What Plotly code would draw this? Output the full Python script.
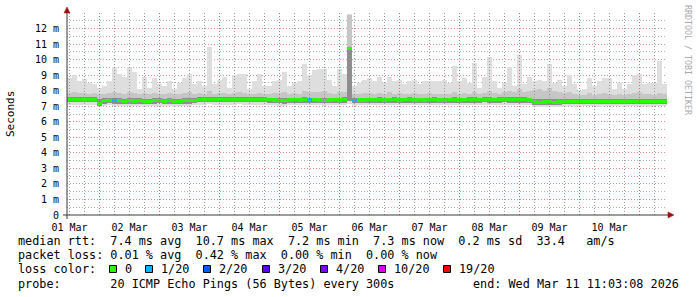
import pandas as pd
import plotly.graph_objects as go

# ---------------- data ----------------
START = "2026-03-01 11:00:00"
END = "2026-03-11 11:00:00"
STEP_HOURS = 2

rtt_max = [8.8, 9.0, 8.6, 8.75, 8.5, 8.4, 8.2, 8.3, 8.6, 9.5,
           9.1, 8.9, 9.5, 9.2, 8.1, 8.9, 8.2, 8.8, 8.4, 8.3,
           8.6, 8.1, 8.5, 8.8, 9.1, 8.4, 8.6, 8.3, 10.8, 8.4,
           8.7, 8.9, 8.2, 9.0, 9.1, 9.1, 8.1, 8.6, 9.1, 8.3,
           8.3, 8.6, 8.7, 9.2, 8.3, 8.5, 8.6, 9.7, 9.0, 9.35,
           9.4, 9.4, 8.7, 8.3, 9.4, 9.1, 12.95, 8.3, 8.5, 8.7,
           8.8, 8.6, 8.9, 8.5, 8.9, 8.6, 8.7, 8.4, 8.6, 8.7,
           8.4, 8.6, 8.6, 8.6, 8.6, 8.7, 8.5, 9.6, 8.6, 8.8,
           8.5, 9.8, 8.2, 8.9, 10.2, 8.6, 8.2, 8.5, 9.5, 8.3,
           10.3, 8.4, 8.9, 8.6, 8.7, 8.6, 9.7, 8.5, 8.7, 8.3,
           9.0, 8.4, 8.0, 8.1, 8.8, 8.3, 8.6, 8.8, 8.8, 8.1,
           8.5, 8.1, 8.4, 9.0, 9.1, 8.4, 8.5, 8.5, 9.9, 8.4]

rtt_p90 = [7.85, 7.9, 7.85, 7.85, 7.8, 7.85, 7.8, 7.8, 7.85, 7.9,
           7.85, 7.8, 7.9, 7.85, 7.8, 7.85, 7.8, 7.85, 7.8, 7.8,
           7.85, 7.8, 7.8, 7.85, 7.9, 7.8, 7.85, 7.8, 7.95, 7.8,
           7.85, 7.85, 7.8, 7.85, 7.9, 7.85, 7.8, 7.8, 7.85, 7.8,
           7.8, 7.85, 7.85, 7.9, 7.8, 7.85, 7.8, 7.95, 7.9, 7.9,
           7.9, 7.95, 7.85, 7.8, 7.9, 7.9, 12.9, 7.8, 7.8, 7.85,
           7.85, 7.8, 7.85, 7.8, 7.9, 7.8, 7.85, 7.8, 7.8, 7.85,
           7.8, 7.8, 7.85, 7.8, 7.8, 7.8, 7.8, 7.9, 7.8, 7.85,
           7.8, 7.9, 7.8, 7.85, 7.95, 7.85, 7.8, 7.9, 8.0, 7.9,
           8.1, 7.9, 8.0, 8.05, 8.1, 7.95, 8.2, 8.0, 7.9, 7.85,
           7.9, 7.8, 7.75, 7.75, 7.85, 7.75, 7.8, 7.85, 7.8, 7.75,
           7.8, 7.75, 7.8, 7.85, 7.9, 7.8, 7.8, 7.75, 7.85, 7.8]

rtt_q3 = [7.6, 7.58, 7.6, 7.6, 7.58, 7.6, 7.45,
          7.5, 7.52, 7.5, 7.5, 7.48, 7.5, 7.5, 7.5, 7.46, 7.48, 7.5, 7.52, 7.48, 7.5, 7.47, 7.48, 7.5, 7.5, 7.53,
          7.58, 7.58, 7.6, 7.57, 7.58, 7.58, 7.57, 7.58, 7.6, 7.58, 7.57, 7.58, 7.58, 7.57,
          7.56, 7.55, 7.53, 7.52, 7.55, 7.56, 7.55, 7.57, 7.55, 7.56, 7.55, 7.53, 7.55, 7.56, 7.55, 7.57,
          10.8,
          7.53, 7.55, 7.55, 7.56, 7.55, 7.57, 7.55, 7.56, 7.57, 7.55, 7.56, 7.57, 7.55, 7.56, 7.55, 7.56,
          7.57, 7.55, 7.55, 7.56, 7.57, 7.55, 7.56,
          7.57, 7.57, 7.56, 7.58, 7.57, 7.56, 7.57, 7.6, 7.6, 7.58, 7.62, 7.6, 7.56,
          7.45, 7.44, 7.46, 7.47, 7.45, 7.45, 7.47,
          7.47, 7.46, 7.47, 7.48, 7.47, 7.47, 7.46, 7.48, 7.47, 7.48, 7.47, 7.46, 7.47, 7.48, 7.47, 7.47,
          7.46, 7.48, 7.47, 7.48]

median_rtt = [7.43, 7.42, 7.43, 7.43, 7.42, 7.43, 7.15,
              7.35, 7.38, 7.35, 7.35, 7.33, 7.35, 7.34, 7.35, 7.3, 7.33, 7.35, 7.36, 7.32, 7.35, 7.31, 7.33,
              7.35, 7.35, 7.38,
              7.45, 7.45, 7.46, 7.44, 7.45, 7.45, 7.44, 7.45, 7.46, 7.45, 7.44, 7.45, 7.45, 7.44,
              7.42, 7.4, 7.38, 7.35, 7.4, 7.41, 7.4, 7.42, 7.4, 7.41, 7.4, 7.38, 7.4, 7.41, 7.4, 7.42,
              10.7,
              7.38, 7.4, 7.4, 7.41, 7.4, 7.42, 7.4, 7.41, 7.42, 7.4, 7.41, 7.42, 7.4, 7.41, 7.4, 7.41,
              7.42, 7.4, 7.4, 7.41, 7.42, 7.4, 7.41,
              7.42, 7.42, 7.41, 7.43, 7.42, 7.41, 7.42, 7.43, 7.42, 7.41, 7.42, 7.42, 7.4,
              7.27, 7.26, 7.27, 7.28, 7.26, 7.27, 7.3,
              7.32, 7.31, 7.32, 7.33, 7.32, 7.32, 7.31, 7.33, 7.32, 7.33, 7.32, 7.31, 7.32, 7.33, 7.32, 7.32,
              7.31, 7.33, 7.32, 7.33]

rtt_q1 = [7.26, 7.25, 7.26, 7.26, 7.25, 7.26, 7.02,
          7.17, 7.2, 7.17, 7.17, 7.15, 7.17, 7.16, 7.17, 7.12, 7.15, 7.17, 7.18, 7.14, 7.17, 7.13, 7.15,
          7.17, 7.17, 7.2,
          7.27, 7.27, 7.28, 7.26, 7.27, 7.27, 7.26, 7.27, 7.28, 7.27, 7.26, 7.27, 7.27, 7.26,
          7.24, 7.22, 7.2, 7.17, 7.22, 7.23, 7.22, 7.24, 7.22, 7.23, 7.22, 7.2, 7.22, 7.23, 7.22, 7.24,
          7.35,
          7.2, 7.22, 7.22, 7.23, 7.22, 7.24, 7.22, 7.23, 7.24, 7.22, 7.23, 7.24, 7.22, 7.23, 7.22, 7.23,
          7.24, 7.22, 7.22, 7.23, 7.24, 7.22, 7.23,
          7.24, 7.24, 7.23, 7.25, 7.24, 7.23, 7.24, 7.25, 7.24, 7.23, 7.24, 7.24, 7.22,
          7.1, 7.08, 7.1, 7.1, 7.08, 7.1, 7.12,
          7.15, 7.14, 7.15, 7.16, 7.15, 7.15, 7.14, 7.16, 7.15, 7.16, 7.15, 7.14, 7.15, 7.16, 7.15, 7.15,
          7.14, 7.16, 7.15, 7.16]

rtt_min = [7.1, 7.08, 7.1, 7.1, 7.08, 7.1, 6.95,
           7.02, 7.05, 7.02, 7.02, 7.0, 7.02, 7.0, 7.02, 6.98, 7.0, 7.02, 7.03, 7.0, 7.02, 6.98, 7.0,
           7.02, 7.02, 7.05,
           7.1, 7.1, 7.12, 7.08, 7.1, 7.1, 7.08, 7.1, 7.12, 7.1, 7.08, 7.1, 7.1, 7.08,
           7.08, 7.05, 7.03, 7.0, 7.05, 7.06, 7.05, 7.08, 7.05, 7.06, 7.05, 7.03, 7.05, 7.06, 7.05, 7.08,
           7.15,
           7.03, 7.05, 7.05, 7.06, 7.05, 7.08, 7.05, 7.06, 7.08, 7.05, 7.06, 7.08, 7.05, 7.06, 7.05, 7.06,
           7.08, 7.05, 7.05, 7.06, 7.08, 7.05, 7.06,
           7.08, 7.08, 7.06, 7.1, 7.08, 7.06, 7.08, 7.1, 7.08, 7.06, 7.08, 7.08, 7.05,
           6.95, 6.93, 6.95, 6.95, 6.93, 6.95, 6.97,
           7.0, 6.98, 7.0, 7.02, 7.0, 7.0, 6.98, 7.02, 7.0, 7.02, 7.0, 6.98, 7.0, 7.02, 7.0, 7.0,
           6.98, 7.02, 7.0, 7.02]

# lost pings out of 20 per step
loss = [0] * 120
for k in (9, 48, 57):
    loss[k] = 1

day_labels = ["01 Mar", "02 Mar", "03 Mar", "04 Mar", "05 Mar",
              "06 Mar", "07 Mar", "08 Mar", "09 Mar", "10 Mar"]
y_ticks = list(range(0, 13))
y_tick_text = ["0"] + [f"{v} m" for v in range(1, 13)]

loss_levels = ["0", "1/20", "2/20", "3/20", "4/20", "10/20", "19/20"]
loss_level_values = [0, 1, 2, 3, 4, 10, 19]
loss_level_colors = ["#26ff00", "#00b8ff", "#0059ff", "#5e00ff", "#7e00ff", "#dd00ff", "#ff0000"]

legend_rows = [
    "median rtt:  7.4 ms avg  10.7 ms max  7.2 ms min  7.3 ms now  0.2 ms sd  33.4   am/s",
    "packet loss: 0.01 % avg  0.42 % max  0.00 % min  0.00 % now",
    "loss color:",
    "probe:       20 ICMP Echo Pings (56 Bytes) every 300s",
]
end_text = "end: Wed Mar 11 11:03:08 2026"

# ---------------- layout geometry (pixels) ----------------
W, H = 697, 297
L, R, T, B = 67, 30, 13, 82
PW, PH = W - L - R, H - T - B
MONO = "DejaVu Sans Mono"
Y_TOP = 13


def px(x):
    return (x - L) / PW


def py(y):
    return (H - B - y) / PH


start = pd.Timestamp(START)
end = pd.Timestamp(END)
step = pd.Timedelta(hours=STEP_HOURS)
n = len(median_rtt)
times = [(start + step * (k + 0.5)).isoformat() for k in range(n)]
bar_w = step.total_seconds() * 1000
day_noons = [f"2026-03-{d:02d}T12:00:00" for d in range(1, 11)]

# columns where most pings sit far above the median are drawn dark
burst = [(q3 - md) > 1 for q3, md in zip(rtt_q3, median_rtt)]
c_outer = ["#dedede" if not b else "#5a5a5a" for b in burst]
c_mid = ["#c6c6c6" if not b else "#505050" for b in burst]
c_inner = ["#8e8e8e" if not b else "#161616" for b in burst]
color_of = dict(zip(loss_level_values, loss_level_colors))

grid_red = "#e08a8a"
grid_grey = "#b0b0b0"
vgrid_red = "#d66c6c"
vgrid_grey = "#999999"
dots = "1px,2px"

fig = go.Figure()


def band(lo, hi, colors):
    fig.add_trace(go.Bar(
        x=times, y=[h - l for l, h in zip(lo, hi)], base=lo, width=bar_w,
        marker=dict(color=colors, line=dict(width=0)),
        hoverinfo="skip", showlegend=False))


band(rtt_min, rtt_max, c_outer)
band(rtt_q1, rtt_p90, c_mid)
band(rtt_q1, rtt_q3, c_inner)

# median line coloured by loss
med_h = 0.2
fig.add_trace(go.Bar(
    x=times, y=[med_h] * n, base=[m - med_h / 2 for m in median_rtt], width=bar_w,
    marker=dict(color=[color_of[l] for l in loss], line=dict(width=0)),
    hoverinfo="skip", showlegend=False))

# vertical grid as line traces: every 6 h grey, midnight red
grid_times = [t for t in pd.date_range("2026-03-01 12:00", END, freq="6h") if start < t < end]
for want_mid, col in ((False, vgrid_grey), (True, vgrid_red)):
    gx, gy = [], []
    for t in grid_times:
        if (t.hour == 0) == want_mid:
            gx += [t.isoformat(), t.isoformat(), None]
            gy += [0, Y_TOP, None]
    fig.add_trace(go.Scatter(x=gx, y=gy, mode="lines", hoverinfo="skip", showlegend=False,
                             line=dict(color=col, width=1, dash=dots)))

fig.update_layout(
    width=W, height=H,
    margin=dict(l=L, r=R, t=T, b=B, pad=0),
    paper_bgcolor="#ffffff", plot_bgcolor="#ffffff",
    barmode="overlay", bargap=0,
    font=dict(family=MONO, size=10, color="#000000"),
    xaxis=dict(
        type="date", range=[start.isoformat(), end.isoformat()],
        tickmode="array", tickvals=day_noons, ticktext=day_labels,
        ticks="outside", ticklen=3, tickcolor="rgba(0,0,0,0)",
        tickfont=dict(family=MONO, size=10, color="#000000"),
        showgrid=False, showline=False, zeroline=False,
    ),
    yaxis=dict(
        range=[0, Y_TOP], tickmode="array", tickvals=y_ticks, ticktext=y_tick_text,
        ticks="outside", ticklen=5, tickcolor="rgba(0,0,0,0)",
        tickfont=dict(family=MONO, size=10, color="#000000"),
        showgrid=True, gridcolor=grid_red, griddash=dots, gridwidth=1,
        minor=dict(tickmode="linear", tick0=0.5, dtick=1,
                   showgrid=True, gridcolor=grid_grey, griddash=dots, gridwidth=1),
        showline=False, zeroline=False,
    ),
)

shapes = []
axis_col = "#3a3a3a"
arrow_col = "#a01010"
# axes lines
shapes.append(dict(type="line", xref="paper", yref="paper",
                   x0=px(63), x1=px(669), y0=py(215), y1=py(215),
                   line=dict(color=axis_col, width=1)))
shapes.append(dict(type="line", xref="paper", yref="paper",
                   x0=px(67), x1=px(67), y0=py(219), y1=py(10),
                   line=dict(color=axis_col, width=1)))
# arrow heads
shapes.append(dict(type="path", xref="paper", yref="paper",
                   path=f"M {px(668)} {py(212)} L {px(674)} {py(215)} L {px(668)} {py(218)} Z",
                   fillcolor=arrow_col, line=dict(color=arrow_col, width=0.5)))
shapes.append(dict(type="path", xref="paper", yref="paper",
                   path=f"M {px(64)} {py(13)} L {px(67)} {py(7)} L {px(70)} {py(13)} Z",
                   fillcolor=arrow_col, line=dict(color=arrow_col, width=0.5)))

annotations = []
NB = "\u00a0"
row_y = [241, 255, 269, 283.5]
for txt, yy in zip(legend_rows, row_y):
    annotations.append(dict(
        text=txt.replace(" ", NB), xref="paper", yref="paper",
        x=px(16), y=py(yy), xanchor="left", yanchor="middle", showarrow=False,
        font=dict(family=MONO, size=11.8, color="#000000")))
annotations.append(dict(
    text=end_text.replace(" ", NB), xref="paper", yref="paper",
    x=px(681), y=py(283.5), xanchor="right", yanchor="middle", showarrow=False,
    font=dict(family=MONO, size=11.8, color="#000000")))

# loss colour legend items
box_x = [109.5, 145.5, 203.5, 262.5, 320.5, 378.5, 443.5]
for bx, lab, col in zip(box_x, loss_levels, loss_level_colors):
    shapes.append(dict(type="rect", xref="paper", yref="paper",
                       x0=px(bx), x1=px(bx + 7), y0=py(272.5), y1=py(265.5),
                       fillcolor=col, line=dict(color="#000000", width=1)))
    annotations.append(dict(
        text=lab, xref="paper", yref="paper", x=px(bx + 13.5), y=py(269),
        xanchor="left", yanchor="middle", showarrow=False,
        font=dict(family=MONO, size=11.8, color="#000000")))

# y title
annotations.append(dict(
    text="Seconds", xref="paper", yref="paper", x=px(10), y=py(114),
    xanchor="center", yanchor="middle", showarrow=False, textangle=-90,
    font=dict(family=MONO, size=11, color="#000000")))
# watermark
annotations.append(dict(
    text="RRDTOOL / TOBI OETIKER", xref="paper", yref="paper", x=px(688), y=py(60),
    xanchor="center", yanchor="middle", showarrow=False, textangle=90,
    font=dict(family=MONO, size=8.3, color="#aaaaaa")))

fig.update_layout(shapes=shapes, annotations=annotations)
fig.write_html("out.html")
